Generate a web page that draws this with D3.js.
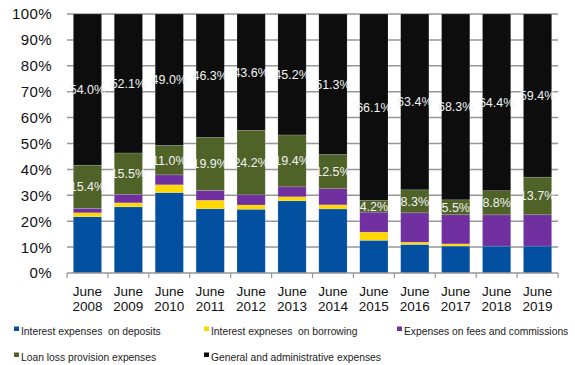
<!DOCTYPE html>
<html>
<head>
<meta charset="utf-8">
<script src="https://cdn.jsdelivr.net/npm/d3@7/dist/d3.min.js"></script>
<style>
  html, body { margin: 0; padding: 0; background: #fff; }
  svg { display: block; font-family: "Liberation Sans", Arial, sans-serif; }
</style>
</head>
<body>
<svg id="chart" width="575" height="365"></svg>
<script>
const years = ["2008","2009","2010","2011","2012","2013","2014","2015","2016","2017","2018","2019"];
const categories = years.map(y => "June " + y);
const deposits  = [20.1, 24.8, 30.0, 24.1, 23.9, 27.0, 23.4, 11.6, 10.3,  9.9,  9.8,  9.8];
const borrowing = [ 1.4,  1.5,  2.9,  3.2,  1.6,  1.5,  1.5,  2.9,  0.8,  0.8,  0.0,  0.0];
const fees      = [ 1.6,  3.2,  3.7,  3.7,  3.8,  3.7,  5.9,  7.1, 10.6, 10.7, 11.4, 11.4];
const loanLoss  = [15.4, 15.5, 11.0, 19.9, 24.2, 19.4, 12.5,  4.2,  8.3,  5.5,  8.8, 13.7];
const general   = [54.0, 52.1, 49.0, 46.3, 43.6, 45.2, 51.3, 66.1, 63.4, 68.3, 64.4, 59.4];
const seriesNames = ["Interest expenses  on deposits", "Interest expneses  on borrowing",
  "Expenses on fees and commissions", "Loan loss provision expenses", "General and administrative expenses"];
const yTicks = [0, 0.1, 0.2, 0.3, 0.4, 0.5, 0.6, 0.7, 0.8, 0.9, 1.0];

(function () {
const keys = ["deposits","borrowing","fees","loanLoss","general"];
const colors = ["#0450a0", "#ffd800", "#7030a0", "#4f6228", "#0d0d0d"];
const labelled = {loanLoss: true, general: true};

const rows = categories.map((c, i) => ({
  cat: c, year: years[i],
  deposits: deposits[i], borrowing: borrowing[i], fees: fees[i],
  loanLoss: loanLoss[i], general: general[i]
}));

const svg = d3.select("#chart");
const pL = 67, pR = 558, pT = 14, pB = 273;

const x = d3.scaleBand().domain(categories).range([pL, pR]).paddingInner(0.31).paddingOuter(0.155);
const y = d3.scaleLinear().domain([0, 1]).range([pB, pT]);

const stacked = d3.stack().keys(keys).offset(d3.stackOffsetExpand)(rows);

// gridlines
svg.append("g").selectAll("line").data(yTicks.slice(1)).join("line")
  .attr("x1", pL).attr("x2", pR)
  .attr("y1", d => y(d)).attr("y2", d => y(d))
  .attr("stroke", "#969696").attr("stroke-width", 1.5);

// y labels
svg.append("g").selectAll("text").data(yTicks).join("text")
  .attr("x", 52).attr("y", d => y(d))
  .attr("dy", "0.36em")
  .attr("text-anchor", "end")
  .attr("font-size", 15).attr("letter-spacing", 0.4)
  .attr("fill", "#111")
  .text(d => d3.format(".0%")(d));

// bars
const layers = svg.append("g").selectAll("g").data(stacked).join("g")
  .attr("fill", (d, i) => colors[i]);
layers.selectAll("rect").data(d => d).join("rect")
  .attr("x", d => x(d.data.cat))
  .attr("width", x.bandwidth())
  .attr("y", d => y(d[1]))
  .attr("height", d => Math.max(0, y(d[0]) - y(d[1])))
  .attr("stroke", "rgba(255,255,255,0.25)").attr("stroke-width", 0.6);

// labels
stacked.forEach(s => {
  if (!labelled[s.key]) return;
  svg.append("g").selectAll("text").data(s).join("text")
    .attr("x", d => x(d.data.cat) + x.bandwidth() / 2)
    .attr("y", d => (y(d[0]) + y(d[1])) / 2)
    .attr("dy", "0.36em")
    .attr("text-anchor", "middle")
    .attr("font-size", 12.5)
    .attr("fill", "#f2f2f2")
    .text(d => d.data[s.key].toFixed(1) + "%");
});

// x axis
const ax = svg.append("g");
ax.append("line").attr("x1", pL).attr("x2", pR).attr("y1", pB).attr("y2", pB)
  .attr("stroke", "#969696").attr("stroke-width", 1.5);
const bounds = categories.map(c => x(c) - x.step() * x.paddingInner() / 2);
bounds[0] = pL;
bounds.push(pR);
ax.selectAll("line.tk").data(bounds).join("line").attr("class", "tk")
  .attr("x1", d => d).attr("x2", d => d).attr("y1", pB).attr("y2", pB + 5)
  .attr("stroke", "#969696").attr("stroke-width", 1.2);
const xl = ax.selectAll("text").data(categories).join("text")
  .attr("text-anchor", "middle")
  .attr("font-size", 13.5)
  .attr("fill", "#111");
xl.append("tspan").attr("x", d => x(d) + x.bandwidth() / 2).attr("y", 295.5).text(d => d.split(" ")[0]);
xl.append("tspan").attr("x", d => x(d) + x.bandwidth() / 2).attr("y", 311).text(d => d.split(" ")[1]);

// legend
const legPos = [[14, 331], [204, 331], [397, 331], [14, 357], [204, 357]];
const lg = svg.append("g").selectAll("g").data(seriesNames).join("g")
  .attr("transform", (d, i) => `translate(${legPos[i][0]},${legPos[i][1]})`);
lg.append("rect").attr("x", 0).attr("y", -4.5).attr("width", 5).attr("height", 4.5)
  .attr("fill", (d, i) => colors[i]);
lg.append("text").attr("x", 7).attr("y", 3.8)
  .attr("font-size", 10.3).attr("fill", "#222")
  .attr("xml:space", "preserve").style("white-space", "pre")
  .text(d => d);
})();
</script>
</body>
</html>
